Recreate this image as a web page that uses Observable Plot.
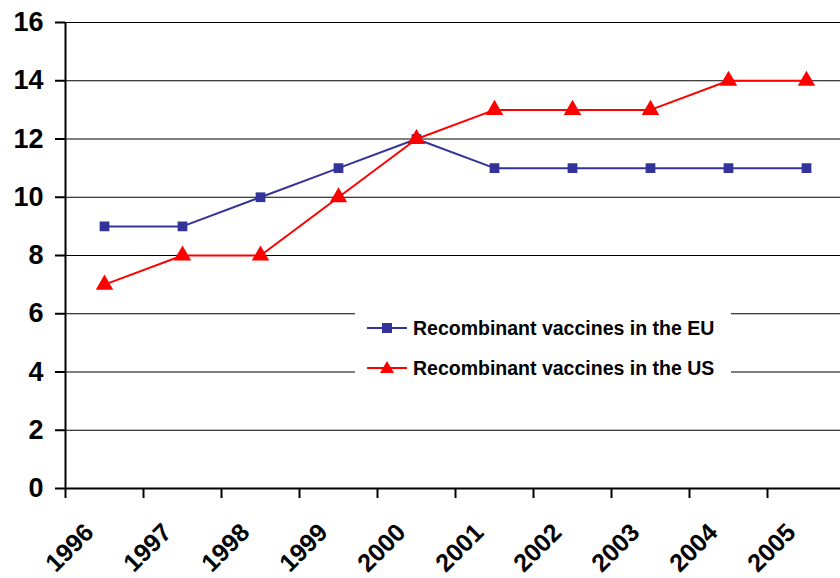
<!DOCTYPE html>
<html>
<head>
<meta charset="utf-8">
<script src="https://cdn.jsdelivr.net/npm/d3@7"></script>
<script src="https://cdn.jsdelivr.net/npm/@observablehq/plot@0.6"></script>
<style>
  html, body { margin: 0; padding: 0; background: #fff; }
  #wrap { position: relative; width: 840px; height: 578px; overflow: hidden; font-family: "Liberation Sans", Arial, sans-serif; }
  #legend { position: absolute; left: 355px; top: 306px; width: 376px; height: 72px; background: #fff; }
  .row { position: absolute; left: 12px; height: 22px; display: flex; align-items: center; font-weight: bold; font-size: 19.5px; color: #000; white-space: nowrap; }
  .row svg { margin-right: 6px; }
</style>
</head>
<body>
<div id="wrap"></div>
<script>
const years = ["1996","1997","1998","1999","2000","2001","2002","2003","2004","2005"];
const euValues = [9, 9, 10, 11, 12, 11, 11, 11, 11, 11];
const usValues = [7, 8, 8, 10, 12, 13, 13, 13, 14, 14];
const yTicks = [0, 2, 4, 6, 8, 10, 12, 14, 16];
const seriesNames = ["Recombinant vaccines in the EU", "Recombinant vaccines in the US"];
const seriesColors = ["#333399", "#FF0000"];

const eu = years.map((y, i) => ({i, year: y, value: euValues[i]}));
const us = years.map((y, i) => ({i, year: y, value: usValues[i]}));
const idx = years.map((_, i) => i);

const chart = Plot.plot({
  width: 840,
  height: 578,
  marginLeft: 65,
  marginRight: 0,
  marginTop: 22,
  marginBottom: 90,
  style: {fontFamily: "Liberation Sans, Arial, sans-serif", background: "#fff"},
  x: {type: "linear", domain: [0, 775 / 78]},
  y: {domain: [0, 16]},
  marks: [
    Plot.gridY(yTicks, {stroke: "#000", strokeOpacity: 1, strokeWidth: 1}),
    Plot.axisY({ticks: yTicks, tickSize: 10, tickPadding: 12, fontSize: 27, fontWeight: "bold", stroke: "#000", strokeWidth: 2, fill: "#000", label: null}),
    Plot.axisX({ticks: idx, tickSize: 10, tickFormat: () => "", stroke: "#000", strokeWidth: 2, label: null}),
    Plot.axisX({ticks: idx, tickSize: 0, tickFormat: i => years[i], tickRotate: -45, fontSize: 25, fontWeight: "bold", dx: 24, dy: 28, fill: "#000", label: null}),
    Plot.ruleX([0], {stroke: "#000", strokeWidth: 2}),
    Plot.ruleY([0], {stroke: "#000", strokeWidth: 2}),
    Plot.line(eu, {x: d => d.i + 0.5, y: "value", stroke: seriesColors[0], strokeWidth: 2}),
    Plot.line(us, {x: d => d.i + 0.5, y: "value", stroke: seriesColors[1], strokeWidth: 2}),
    Plot.dot(eu, {x: d => d.i + 0.5, y: "value", symbol: "square", r: 5.5, fill: seriesColors[0], stroke: "none"}),
    Plot.dot(us, {x: d => d.i + 0.5, y: "value", symbol: "triangle", r: 6.5, fill: seriesColors[1], stroke: "none"})
  ]
});

const wrap = document.getElementById("wrap");
wrap.appendChild(chart);

const legend = document.createElement("div");
legend.id = "legend";
const symbols = [
  c => `<rect x="15" y="6" width="10" height="10" fill="${c}"/>`,
  c => `<polygon points="20,4 27,16 13,16" fill="${c}"/>`
];
seriesNames.forEach((name, k) => {
  const row = document.createElement("div");
  row.className = "row";
  row.style.top = (k === 0 ? 11 : 51) + "px";
  row.innerHTML = `<svg width="40" height="22"><line x1="0" x2="40" y1="11" y2="11" stroke="${seriesColors[k]}" stroke-width="2"/>${symbols[k](seriesColors[k])}</svg><span>${name}</span>`;
  legend.appendChild(row);
});
wrap.appendChild(legend);
</script>
</body>
</html>
